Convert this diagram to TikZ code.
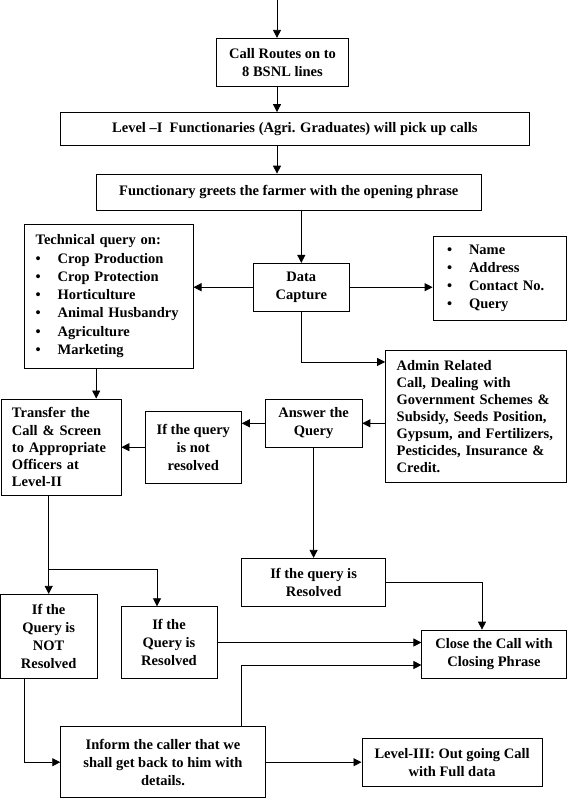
\documentclass[tikz,border=0pt]{standalone}
\usepackage{fontspec}
\setmainfont{Liberation Serif}
\usetikzlibrary{arrows.meta, positioning}
\newcommand{\itm}{\makebox[22pt][l]{\textbullet}}

\begin{document}
\begin{tikzpicture}[x=1pt, y=-1pt,
        box/.style={draw, line width=0.8pt, inner sep=0pt, align=center,
            font=\bfseries\fontsize{14.5}{17.8}\selectfont},
        boxsize/.style 2 args={minimum width=#1pt, minimum height=#2pt},
        arr/.style={line width=0.8pt, -{Triangle[length=8pt, width=8pt]}},
        line/.style={line width=0.8pt}]
    \useasboundingbox (0, 0) rectangle (567, 800);

    % boxes
    \node[box, boxsize={131.6}{48.4}] (route) at (282.5, 62.5) {Call Routes on to\\8 BSNL lines};
    \node[box, boxsize={469.5}{32.8}] (level1) at (294.8, 128.9)
        {Level --I\ \ Functionaries (Agri. Graduates) will pick up calls};
    \node[box, boxsize={384.4}{36.5}] (greet) at (288.8, 192.3)
        {Functionary greets the farmer with the opening phrase};
    \node[box, boxsize={96.5}{47.7}] (capture) at (301.3, 287.2) {Data\\Capture};
    \node[box, boxsize={168.8}{143.7}, text width=146pt, align=left,
        font=\bfseries\fontsize{14.5}{18.3}\selectfont] (tech) at (108.7, 296.2)
        {Technical query on:\\
         \itm Crop Production\\ \itm Crop Protection\\ \itm Horticulture\\
         \itm Animal Husbandry\\ \itm Agriculture\\ \itm Marketing};
    \node[box, boxsize={133}{83.5}, text width=105pt, align=left,
        font=\bfseries\fontsize{14.5}{18.3}\selectfont] (fields) at (499.5, 278.3)
        {\itm Name\\ \itm Address\\ \itm Contact No.\\ \itm Query};
    \node[box, boxsize={180.5}{132.3}, text width=158.2pt, align=left,
        font=\bfseries\fontsize{14.5}{17}\selectfont] (admin) at (475.8, 416.2)
        {Admin Related\\Call, Dealing with\\Government Schemes \&\\Subsidy, Seeds Position,\\
         Gypsum, and Fertilizers,\\Pesticides, Insurance \&\\Credit.};
    \node[box, boxsize={96.6}{48.7}] (answer) at (313.6, 423.3) {Answer the\\Query};
    \node[box, boxsize={96.2}{72.3}] (notres) at (193.3, 447.2) {If the query\\is not\\resolved};
    \node[box, boxsize={120}{96.7}, text width=98pt, align=left,
        font=\bfseries\fontsize{14.5}{17.2}\selectfont] (transfer) at (61, 447.3)
        {Transfer the\\Call \& Screen\\to Appropriate\\Officers at\\Level-II};
    \node[box, boxsize={96.4}{84}] (qnot) at (48.7, 636.3) {If the\\Query is\\NOT\\Resolved};
    \node[box, boxsize={96.1}{71.6}] (qyes) at (169, 642.5) {If the\\Query is\\Resolved};
    \node[box, boxsize={144.4}{48.4}] (resolved) at (313.6, 582.5) {If the query is\\Resolved};
    \node[box, boxsize={144.4}{48.3}] (close) at (494, 654.2) {Close the Call with\\Closing Phrase};
    \node[box, boxsize={204.7}{71}] (inform) at (163, 762.2)
        {Inform the caller that we\\shall get back to him with\\details.};
    \node[box, boxsize={180.4}{47.7}] (level3) at (452.1, 762.2)
        {Level-III: Out going Call\\with Full data};

    % helper points
    \coordinate (start) at (277, 0);
    \coordinate (t1) at ([xshift=-12.5pt]tech.south);
    \coordinate (splity) at (0, 569.3);
    \coordinate (split) at (qnot.north |- splity);
    \coordinate (q2) at ([xshift=-12pt]qyes.north);
    \coordinate (c1) at ([xshift=-12pt]close.north);
    \coordinate (c2) at ([yshift=-10.8pt]close.west);
    \coordinate (i1) at ([xshift=78.4pt]inform.north);
    \coordinate (n1) at ([xshift=-24.4pt]qnot.south);

    % connectors
    \draw[arr] (start) -- (start |- route.north);
    \draw[arr] (start |- route.south) -- (start |- level1.north);
    \draw[arr] (start |- level1.south) -- (start |- greet.north);
    \draw[arr] (capture.north |- greet.south) -- (capture.north);
    \draw[arr] (capture.west) -- (capture.west -| tech.east);
    \draw[arr] (capture.east) -- (capture.east -| fields.west);
    \draw[arr] (capture.south) |- ([yshift=-12.3pt]admin.north west);
    \draw[arr] (answer.east -| admin.west) -- (answer.east);
    \draw[arr] (answer.west) -- (answer.west -| notres.east);
    \draw[arr] (notres.west) -- (notres.west -| transfer.east);
    \draw[arr] (t1) -- (t1 |- transfer.north);
    \draw[line] (qnot.north |- transfer.south) -- (split);
    \draw[arr] (split) -- (qnot.north);
    \draw[arr] (split) -| (q2);
    \draw[arr] (answer.south) -- (resolved.north);
    \draw[arr] (resolved.east) -| (c1);
    \draw[arr] (qyes.east) -- (qyes.east -| close.west);
    \draw[arr] (i1) |- (c2);
    \draw[arr] (n1) |- (inform.west);
    \draw[arr] (inform.east) -- (level3.west);
\end{tikzpicture}
\end{document}
